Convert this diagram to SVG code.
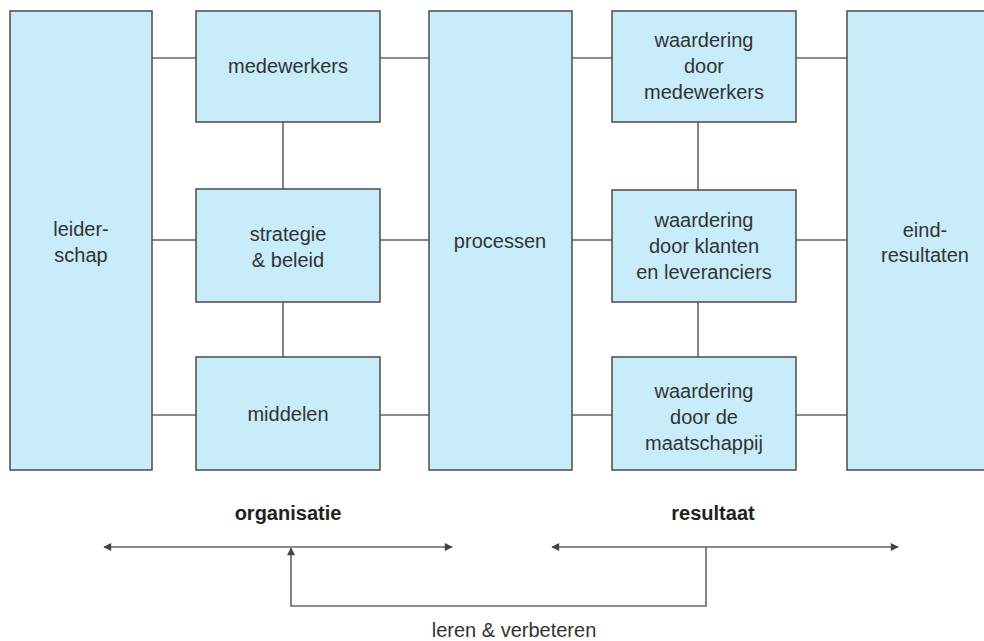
<svg xmlns="http://www.w3.org/2000/svg" width="984" height="641" viewBox="0 0 984 641">
<defs>
<style>
.box{fill:#c8ecf9;stroke:#555;stroke-width:1.6}
.ln{fill:none;stroke:#666;stroke-width:1.6}
.t{font-family:"Liberation Sans",Arial,sans-serif;font-size:20px;fill:#333;text-anchor:middle}
.b{font-family:"Liberation Sans",Arial,sans-serif;font-size:20px;font-weight:bold;fill:#222;text-anchor:middle}
</style>
<marker id="ah" viewBox="0 0 10 10" refX="9" refY="5" markerWidth="10" markerHeight="8" markerUnits="userSpaceOnUse" orient="auto-start-reverse">
<path d="M0,0 L10,5 L0,10 z" fill="#444"/>
</marker>
</defs>
<rect width="984" height="641" fill="#fff"/>
<g id="connectors">
<path class="ln" d="M152,58H196M152,240H196M152,415H196"/>
<path class="ln" d="M380,58H429M380,240H429M380,415H429"/>
<path class="ln" d="M572,58H612M572,240H612M572,415H612"/>
<path class="ln" d="M796,58H847M796,240H847M796,415H847"/>
<path class="ln" d="M283,122V189M283,302V357"/>
<path class="ln" d="M698,122V190M698,302V357"/>
<path class="ln" d="M104,547H452" marker-start="url(#ah)" marker-end="url(#ah)"/>
<path class="ln" d="M552,547H898" marker-start="url(#ah)" marker-end="url(#ah)"/>
<path class="ln" d="M706,547V606H291V548" marker-end="url(#ah)"/>
</g>
<g id="leiderschap"><rect class="box" x="10" y="11" width="142" height="459"/><text class="t" x="81" y="236">leider-</text><text class="t" x="81" y="262">schap</text></g>
<g id="medewerkers"><rect class="box" x="196" y="11" width="184" height="111"/><text class="t" x="288" y="73">medewerkers</text></g>
<g id="strategie"><rect class="box" x="196" y="189" width="184" height="113"/><text class="t" x="288" y="241">strategie</text><text class="t" x="288" y="267">&amp; beleid</text></g>
<g id="middelen"><rect class="box" x="196" y="357" width="184" height="113"/><text class="t" x="288" y="421">middelen</text></g>
<g id="processen"><rect class="box" x="429" y="11" width="143" height="459"/><text class="t" x="500" y="248">processen</text></g>
<g id="waardering-medewerkers"><rect class="box" x="612" y="11" width="184" height="111"/><text class="t" x="704" y="47">waardering</text><text class="t" x="704" y="73">door</text><text class="t" x="704" y="99">medewerkers</text></g>
<g id="waardering-klanten"><rect class="box" x="612" y="190" width="184" height="112"/><text class="t" x="704" y="227">waardering</text><text class="t" x="704" y="253">door klanten</text><text class="t" x="704" y="279">en leveranciers</text></g>
<g id="waardering-maatschappij"><rect class="box" x="612" y="357" width="184" height="113"/><text class="t" x="704" y="398">waardering</text><text class="t" x="704" y="424">door de</text><text class="t" x="704" y="450">maatschappij</text></g>
<g id="eindresultaten"><rect class="box" x="847" y="11" width="157" height="459"/><text class="t" x="925" y="237">eind-</text><text class="t" x="925" y="262">resultaten</text></g>
<g id="labels">
<text class="b" x="288" y="520">organisatie</text>
<text class="b" x="713" y="520">resultaat</text>
<text class="t" x="514" y="637">leren &amp; verbeteren</text>
</g>
</svg>
